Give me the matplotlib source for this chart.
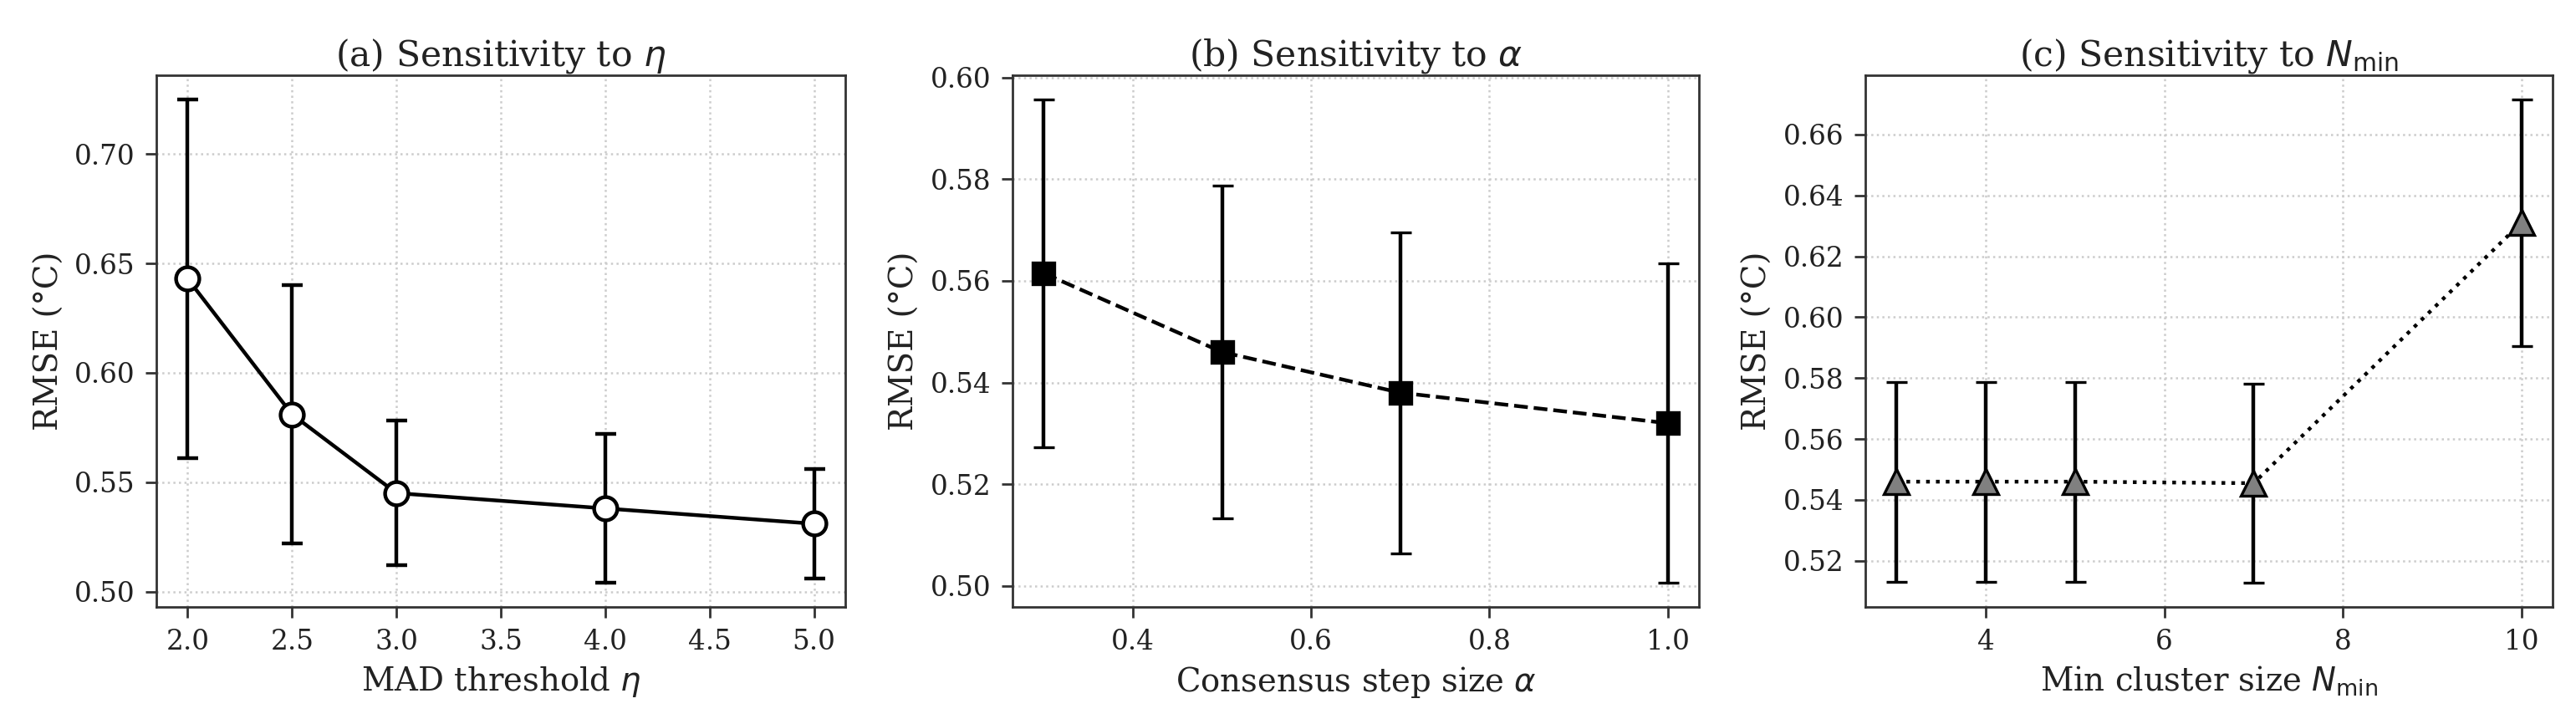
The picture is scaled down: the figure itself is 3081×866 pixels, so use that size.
import matplotlib
matplotlib.use("Agg")
import matplotlib.pyplot as plt

# ---- data ----
eta_vals = [2.0, 2.5, 3.0, 4.0, 5.0]
eta_rmse = [0.643, 0.581, 0.545, 0.538, 0.531]
eta_std = [0.082, 0.059, 0.033, 0.034, 0.025]

alpha_vals = [0.3, 0.5, 0.7, 1.0]
alpha_rmse = [0.5615, 0.546, 0.538, 0.532]
alpha_std = [0.0342, 0.0327, 0.0316, 0.0314]

nmin_vals = [3, 4, 5, 7, 10]
nmin_rmse = [0.546, 0.546, 0.546, 0.5455, 0.631]
nmin_std = [0.0328, 0.0328, 0.0328, 0.0327, 0.0405]

titles = [r"(a) Sensitivity to $\eta$", r"(b) Sensitivity to $\alpha$",
          r"(c) Sensitivity to $N_{\mathrm{min}}$"]
xlabels = [r"MAD threshold $\eta$", r"Consensus step size $\alpha$",
           r"Min cluster size $N_{\mathrm{min}}$"]
ylabel = "RMSE (°C)"

plt.rcParams.update({
    "font.family": "DejaVu Serif",
    "mathtext.fontset": "dejavusans",
    "axes.edgecolor": "#333333",
    "axes.linewidth": 1.0,
    "xtick.color": "#333333",
    "ytick.color": "#333333",
    "xtick.labelcolor": "#222222",
    "ytick.labelcolor": "#222222",
    "text.color": "#222222",
    "axes.labelcolor": "#222222",
    "xtick.major.size": 4.8,
    "ytick.major.size": 4.8,
    "xtick.major.width": 1.0,
    "ytick.major.width": 1.0,
    "xtick.major.pad": 4.5,
    "ytick.major.pad": 4.5,
})

W, H, DPI = 3081, 866, 200
fig = plt.figure(figsize=(W / DPI, H / DPI), dpi=DPI)
renderer = fig.canvas.get_renderer()


def fit_size(s, target_px, base=12.0):
    t = fig.text(0, 0, s, fontsize=base)
    w = t.get_window_extent(renderer=renderer).width
    t.remove()
    return base * target_px / w


tick_fs = fit_size("0.70", 73)
title_fs = fit_size(titles[0], 397)
label_fs = fit_size(xlabels[0], 336)

lefts = [187, 1211, 2231]
widths = [824, 821, 822]
bottom_px, top_px = 726, 90
axes = []
for l, w in zip(lefts, widths):
    ax = fig.add_axes([l / W, (H - bottom_px) / H, w / W, (bottom_px - top_px) / H])
    axes.append(ax)

eb_kw = dict(ecolor="black", elinewidth=1.6, capsize=4.5, capthick=1.6, color="black")

ax = axes[0]
ax.errorbar(eta_vals, eta_rmse, yerr=eta_std, fmt="-o", lw=1.6, ms=10,
            mfc="white", mec="black", mew=1.6, **eb_kw)
ax.set_xticks([2.0, 2.5, 3.0, 3.5, 4.0, 4.5, 5.0])

ax = axes[1]
ax.errorbar(alpha_vals, alpha_rmse, yerr=alpha_std, fmt="--s", lw=1.6, ms=9.5,
            mfc="black", mec="black", mew=1.2, **eb_kw)
ax.set_xticks([0.4, 0.6, 0.8, 1.0])

ax = axes[2]
ax.errorbar(nmin_vals, nmin_rmse, yerr=nmin_std, fmt=":^", lw=1.6, ms=11,
            mfc="#808080", mec="black", mew=1.2, **eb_kw)
ax.set_xticks([4, 6, 8, 10])

for ax, t, xl in zip(axes, titles, xlabels):
    ax.set_title(t, fontsize=title_fs, pad=3)
    ax.set_xlabel(xl, fontsize=label_fs, labelpad=4)
    ax.set_ylabel(ylabel, fontsize=label_fs)
    ax.tick_params(labelsize=tick_fs)
    ax.grid(True, linestyle=":", color="#cccccc", linewidth=0.9)
    ax.set_axisbelow(True)

fig.savefig("out.png", dpi=DPI)
